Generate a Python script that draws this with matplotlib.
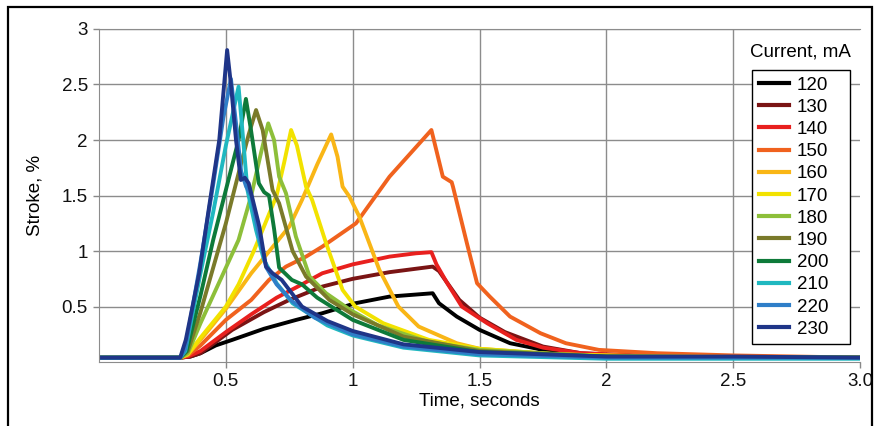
import matplotlib
matplotlib.use("Agg")
from matplotlib import pyplot as plt
from matplotlib.patches import Rectangle

plt.rcParams['font.family'] = ['Liberation Sans', 'DejaVu Sans']

# stroke curves for each drive current (time in s, stroke in %)
t120 = [0, 0.32, 0.36, 0.40, 0.46, 0.525, 0.65, 0.777, 0.88, 1.01, 1.145, 1.315, 1.34, 1.41, 1.50, 1.62, 1.75, 1.9, 2.2, 3.0]
s120 = [0.04, 0.04, 0.05, 0.08, 0.15, 0.2, 0.3, 0.38, 0.44, 0.53, 0.59, 0.62, 0.53, 0.41, 0.29, 0.17, 0.11, 0.07, 0.05, 0.04]

t130 = [0, 0.32, 0.36, 0.40, 0.525, 0.65, 0.75, 0.88, 1.0, 1.145, 1.315, 1.34, 1.355, 1.42, 1.5, 1.6, 1.75, 1.9, 2.2, 3.0]
s130 = [0.04, 0.04, 0.05, 0.08, 0.29, 0.45, 0.56, 0.68, 0.75, 0.81, 0.86, 0.82, 0.77, 0.56, 0.4, 0.27, 0.14, 0.08, 0.05, 0.04]

t140 = [0, 0.32, 0.35, 0.40, 0.50, 0.60, 0.70, 0.80, 0.88, 1.0, 1.145, 1.25, 1.31, 1.33, 1.37, 1.43, 1.53, 1.645, 1.75, 1.9, 2.2, 3.0]
s140 = [0.04, 0.04, 0.05, 0.1, 0.27, 0.43, 0.58, 0.7, 0.8, 0.88, 0.95, 0.98, 0.99, 0.88, 0.72, 0.5, 0.35, 0.2, 0.13, 0.08, 0.05, 0.04]

t150 = [0, 0.32, 0.35, 0.40, 0.50, 0.60, 0.67, 0.737, 0.816, 0.88, 1.013, 1.145, 1.31, 1.355, 1.39, 1.395, 1.45, 1.49, 1.54, 1.62, 1.74, 1.84, 1.97, 2.2, 2.5, 3.0]
s150 = [0.04, 0.04, 0.06, 0.15, 0.38, 0.56, 0.74, 0.86, 0.95, 1.04, 1.25, 1.67, 2.09, 1.67, 1.62, 1.58, 1.07, 0.71, 0.59, 0.41, 0.26, 0.17, 0.11, 0.08, 0.06, 0.04]

t160 = [0, 0.32, 0.35, 0.40, 0.50, 0.60, 0.70, 0.75, 0.80, 0.86, 0.915, 0.94, 0.96, 0.987, 1.026, 1.105, 1.18, 1.26, 1.41, 1.5, 1.8, 2.2, 3.0]
s160 = [0.04, 0.04, 0.07, 0.2, 0.48, 0.8, 1.08, 1.22, 1.46, 1.78, 2.05, 1.85, 1.58, 1.49, 1.31, 0.83, 0.5, 0.32, 0.17, 0.12, 0.07, 0.05, 0.04]

t170 = [0, 0.32, 0.35, 0.40, 0.45, 0.50, 0.55, 0.61, 0.65, 0.70, 0.73, 0.757, 0.78, 0.816, 0.84, 0.895, 0.96, 1.01, 1.12, 1.3, 1.5, 1.8, 2.2, 3.0]
s170 = [0.04, 0.04, 0.07, 0.22, 0.36, 0.5, 0.7, 1.0, 1.22, 1.5, 1.8, 2.09, 1.95, 1.58, 1.46, 1.07, 0.65, 0.5, 0.35, 0.2, 0.12, 0.07, 0.05, 0.04]

t180 = [0, 0.32, 0.35, 0.40, 0.45, 0.50, 0.55, 0.60, 0.64, 0.667, 0.69, 0.71, 0.737, 0.776, 0.83, 0.895, 0.99, 1.1, 1.3, 1.5, 2.0, 3.0]
s180 = [0.04, 0.04, 0.08, 0.35, 0.6, 0.85, 1.1, 1.5, 1.9, 2.15, 2.0, 1.67, 1.52, 1.13, 0.77, 0.62, 0.47, 0.33, 0.18, 0.11, 0.05, 0.04]

t190 = [0, 0.32, 0.35, 0.40, 0.45, 0.50, 0.55, 0.59, 0.619, 0.645, 0.684, 0.71, 0.763, 0.816, 0.908, 1.0, 1.2, 1.5, 2.0, 3.0]
s190 = [0.04, 0.04, 0.1, 0.45, 0.85, 1.25, 1.7, 2.05, 2.27, 2.09, 1.55, 1.43, 1.0, 0.77, 0.56, 0.43, 0.23, 0.1, 0.05, 0.04]

t200 = [0, 0.32, 0.345, 0.40, 0.45, 0.50, 0.55, 0.579, 0.599, 0.63, 0.651, 0.67, 0.69, 0.71, 0.76, 0.80, 0.86, 1.0, 1.2, 1.5, 2.0, 3.0]
s200 = [0.04, 0.04, 0.1, 0.6, 1.1, 1.55, 2.0, 2.37, 2.09, 1.61, 1.53, 1.5, 1.2, 0.85, 0.74, 0.7, 0.58, 0.38, 0.2, 0.09, 0.05, 0.04]

t210 = [0, 0.32, 0.34, 0.40, 0.45, 0.50, 0.55, 0.565, 0.585, 0.619, 0.65, 0.70, 0.763, 0.9, 1.0, 1.2, 1.5, 2.0, 3.0]
s210 = [0.04, 0.04, 0.1, 0.8, 1.35, 1.95, 2.48, 2.09, 1.55, 1.19, 0.92, 0.71, 0.53, 0.33, 0.24, 0.13, 0.06, 0.03, 0.03]

t220 = [0, 0.32, 0.34, 0.40, 0.45, 0.49, 0.52, 0.54, 0.56, 0.58, 0.60, 0.63, 0.66, 0.70, 0.76, 0.85, 1.0, 1.2, 1.5, 2.0, 3.0]
s220 = [0.04, 0.04, 0.12, 0.9, 1.6, 2.2, 2.55, 2.15, 1.72, 1.58, 1.5, 1.15, 0.85, 0.7, 0.55, 0.4, 0.25, 0.14, 0.07, 0.04, 0.04]

t230 = [0, 0.32, 0.342, 0.395, 0.434, 0.474, 0.505, 0.52, 0.54, 0.559, 0.575, 0.59, 0.632, 0.658, 0.684, 0.72, 0.80, 0.9, 1.0, 1.2, 1.5, 2.0, 2.5, 3.0]
s230 = [0.04, 0.04, 0.2, 0.8, 1.4, 2.0, 2.81, 2.5, 2.0, 1.64, 1.66, 1.61, 1.22, 0.86, 0.8, 0.74, 0.5, 0.37, 0.28, 0.16, 0.09, 0.05, 0.05, 0.04]

currents = ['120', '130', '140', '150', '160', '170', '180', '190', '200', '210', '220', '230']
times = [t120, t130, t140, t150, t160, t170, t180, t190, t200, t210, t220, t230]
strokes = [s120, s130, s140, s150, s160, s170, s180, s190, s200, s210, s220, s230]
colors = ['#000000', '#7a1414', '#e8201e', '#f0621e', '#f9b616', '#f2e200',
          '#8dbf3a', '#7a7a2a', '#0e7a3a', '#20b8c0', '#2f7ec8', '#1f3588']

xticks = [0.5, 1, 1.5, 2, 2.5, 3.0]
xticklabels = ['0.5', '1', '1.5', '2', '2.5', '3.0']
yticks = [0.5, 1, 1.5, 2, 2.5, 3]
yticklabels = ['0.5', '1', '1.5', '2', '2.5', '3']

fig = plt.figure(figsize=(8.8, 4.26), dpi=100)
ax = fig.add_axes([0.1125, 0.150, 0.865, 0.782])

for t, s, c, lab in zip(times, strokes, colors, currents):
    ax.plot(t, s, color=c, lw=2.8, label=lab, solid_joinstyle='round')

ax.set_xlim(0, 3.0)
ax.set_ylim(0, 3)
ax.set_xticks(xticks)
ax.set_xticklabels(xticklabels)
ax.set_yticks(yticks)
ax.set_yticklabels(yticklabels)
ax.tick_params(labelsize=13.5, labelcolor='#111111', length=4, width=1, pad=4)
ax.tick_params(axis='both', color='#888888')
ax.grid(True, color='#8c8c8c', lw=1)
ax.set_axisbelow(True)
ax.xaxis.get_gridlines()[-1].set_visible(False)
for side in ['left', 'bottom', 'top']:
    ax.spines[side].set_color('#8c8c8c')
ax.spines['right'].set_visible(False)

ax.set_xlabel('Time, seconds', fontsize=13.5, labelpad=2)
ax.set_ylabel('Stroke, %', fontsize=13.5, labelpad=13)

# legend box stretched to a fixed width, title set above the box
leg = ax.legend(loc='upper left', bbox_to_anchor=(0.858, 0.066, 0.129, 0.811),
                mode='expand', fontsize=13.5, frameon=True, fancybox=False,
                edgecolor='black', framealpha=1, handlelength=1.6,
                handletextpad=0.45, labelspacing=0.27, borderpad=0.35,
                borderaxespad=0)
leg.get_frame().set_linewidth(1)
for h in leg.get_lines():
    h.set_linewidth(3)
ax.text(0.921, 0.93, 'Current, mA', transform=ax.transAxes, fontsize=13.5,
        ha='center', va='center')

# outer frame round the whole figure
fig.patches.append(Rectangle((0.009, -0.02), 0.982, 1.003, transform=fig.transFigure,
                             fill=False, edgecolor='black', lw=1.6))

fig.savefig('out.png', dpi=100)
